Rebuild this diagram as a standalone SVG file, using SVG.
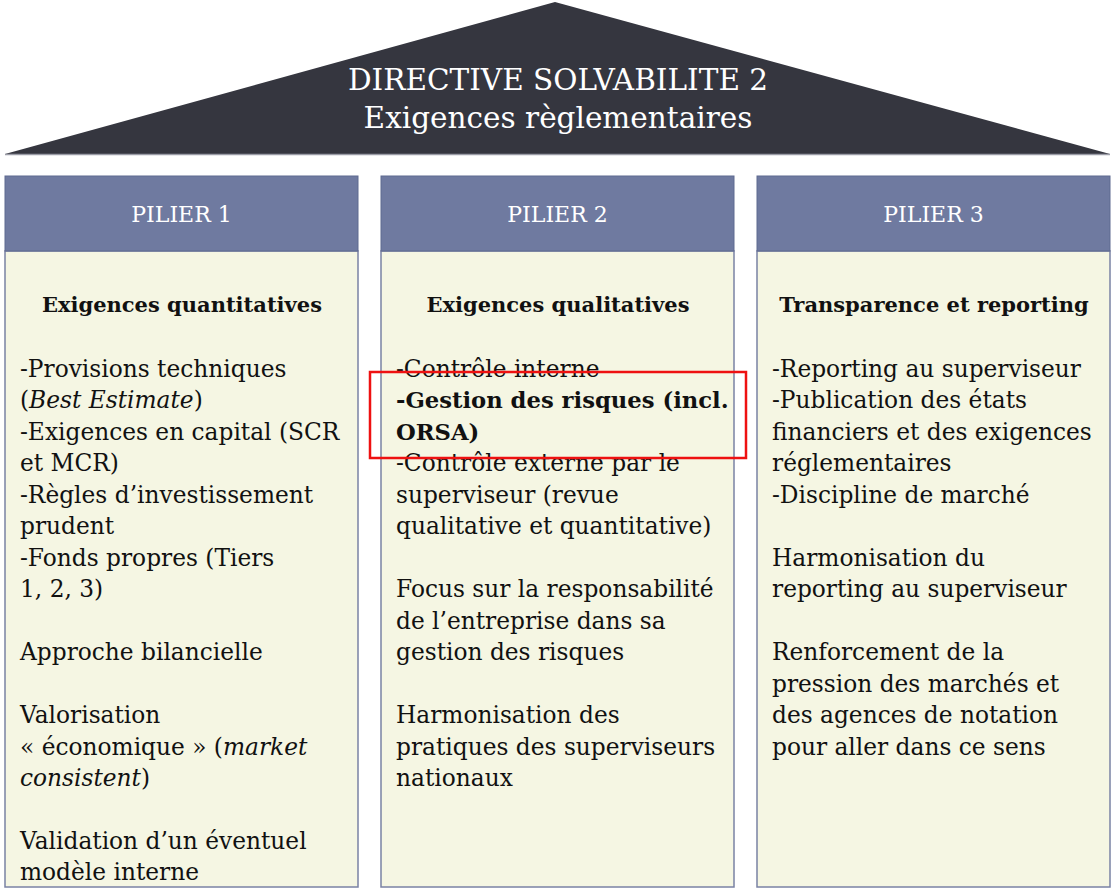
<svg xmlns="http://www.w3.org/2000/svg" width="1111" height="889" viewBox="0 0 1111 889">
  <style>
    .roof { fill: #35363f; }
    .roofedge { stroke: #9a9ca6; stroke-width: 1.5; fill: none; }
    .title { font-family: "DejaVu Serif", "Liberation Serif", serif; font-size: 29.5px; fill: #ffffff; text-anchor: middle; }
    .head { fill: #6f7aa0; stroke: #5f6a90; stroke-width: 1; }
    .body { fill: #f5f6e3; stroke: #7a82a4; stroke-width: 1.5; }
    .htxt { font-family: "DejaVu Serif", "Liberation Serif", serif; font-size: 22px; fill: #ffffff; text-anchor: middle; }
    .sub { font-family: "DejaVu Serif", "Liberation Serif", serif; font-size: 21px; font-weight: bold; fill: #111111; text-anchor: middle; }
    .txt { font-family: "DejaVu Serif", "Liberation Serif", serif; font-size: 23.3px; fill: #111111; }
    .b { font-weight: bold; font-size: 22.7px; }
    .i { font-style: italic; }
    .mark { fill: none; stroke: #ee1111; stroke-width: 2.5; }
  </style>

  <!-- roof -->
  <g id="roof">
    <polygon class="roof" points="5,154 555,2 1110,154"/>
    <line class="roofedge" x1="5" y1="154.5" x2="1110" y2="154.5"/>
    <text class="title" x="558" y="90">DIRECTIVE SOLVABILITE 2</text>
    <text class="title" x="558" y="128">Exigences règlementaires</text>
  </g>

  <!-- pillar 1 -->
  <g id="pilier1">
    <rect class="body" x="5" y="251" width="353" height="636"/>
    <rect class="head" x="5" y="176" width="353" height="75"/>
    <text class="htxt" x="181.5" y="222">PILIER 1</text>
    <text class="sub" x="182" y="312">Exigences quantitatives</text>
    <text class="txt" x="20">
      <tspan x="20" y="377">-Provisions techniques</tspan>
      <tspan x="20" y="408">(<tspan class="i">Best Estimate</tspan>)</tspan>
      <tspan x="20" y="440">-Exigences en capital (SCR</tspan>
      <tspan x="20" y="471">et MCR)</tspan>
      <tspan x="20" y="503">-Règles d’investissement</tspan>
      <tspan x="20" y="534">prudent</tspan>
      <tspan x="20" y="566">-Fonds propres (Tiers</tspan>
      <tspan x="20" y="597">1, 2, 3)</tspan>
      <tspan x="20" y="660">Approche bilancielle</tspan>
      <tspan x="20" y="723">Valorisation</tspan>
      <tspan x="20" y="755">« économique » (<tspan class="i">market</tspan></tspan>
      <tspan x="20" y="786"><tspan class="i">consistent</tspan>)</tspan>
      <tspan x="20" y="849">Validation d’un éventuel</tspan>
      <tspan x="20" y="880">modèle interne</tspan>
    </text>
  </g>

  <!-- pillar 2 -->
  <g id="pilier2">
    <rect class="body" x="381" y="251" width="353" height="636"/>
    <rect class="head" x="381" y="176" width="353" height="75"/>
    <text class="htxt" x="557.5" y="222">PILIER 2</text>
    <text class="sub" x="558" y="312">Exigences qualitatives</text>
    <text class="txt" x="396">
      <tspan x="396" y="377">-Contrôle interne</tspan>
      <tspan x="396" y="408" class="b">-Gestion des risques (incl.</tspan>
      <tspan x="396" y="440" class="b">ORSA)</tspan>
      <tspan x="396" y="471">-Contrôle externe par le</tspan>
      <tspan x="396" y="503">superviseur (revue</tspan>
      <tspan x="396" y="534">qualitative et quantitative)</tspan>
      <tspan x="396" y="597">Focus sur la responsabilité</tspan>
      <tspan x="396" y="629">de l’entreprise dans sa</tspan>
      <tspan x="396" y="660">gestion des risques</tspan>
      <tspan x="396" y="723">Harmonisation des</tspan>
      <tspan x="396" y="755">pratiques des superviseurs</tspan>
      <tspan x="396" y="786">nationaux</tspan>
    </text>
  </g>

  <!-- pillar 3 -->
  <g id="pilier3">
    <rect class="body" x="757" y="251" width="353" height="636"/>
    <rect class="head" x="757" y="176" width="353" height="75"/>
    <text class="htxt" x="933.5" y="222">PILIER 3</text>
    <text class="sub" x="934" y="312">Transparence et reporting</text>
    <text class="txt" x="772">
      <tspan x="772" y="377">-Reporting au superviseur</tspan>
      <tspan x="772" y="408">-Publication des états</tspan>
      <tspan x="772" y="440">financiers et des exigences</tspan>
      <tspan x="772" y="471">réglementaires</tspan>
      <tspan x="772" y="503">-Discipline de marché</tspan>
      <tspan x="772" y="566">Harmonisation du</tspan>
      <tspan x="772" y="597">reporting au superviseur</tspan>
      <tspan x="772" y="660">Renforcement de la</tspan>
      <tspan x="772" y="692">pression des marchés et</tspan>
      <tspan x="772" y="723">des agences de notation</tspan>
      <tspan x="772" y="755">pour aller dans ce sens</tspan>
    </text>
  </g>

  <!-- highlight around risk management item -->
  <g id="highlight">
    <rect class="mark" x="370" y="372" width="376" height="86"/>
  </g>
</svg>
